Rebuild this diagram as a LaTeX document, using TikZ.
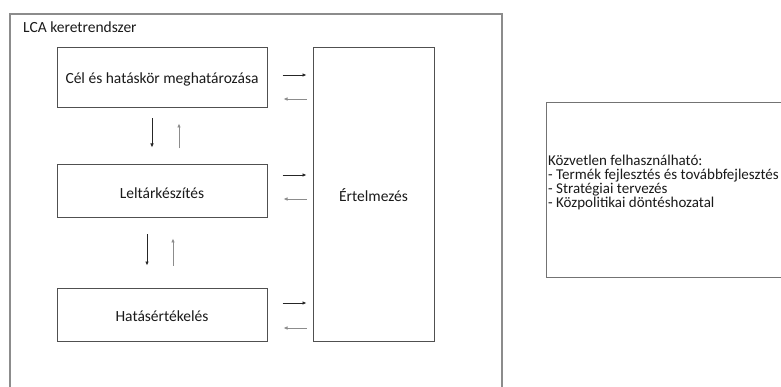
\documentclass[tikz,border=0pt]{standalone}
\usepackage{fontspec}
\setmainfont{Carlito}
\usetikzlibrary{arrows.meta}
\definecolor{framegray}{HTML}{8C8C8C}
\definecolor{boxgray}{HTML}{505050}
\definecolor{txt}{HTML}{1A1A1A}
\tikzset{
  x=1pt, y=-1pt,
  box/.style={draw=boxgray, line width=1pt, fill=white, inner sep=0pt},
  lbl/.style={text=txt, font=\fontsize{15.5}{17}\selectfont, inner sep=0pt},
  darr/.style={draw=black!85, line width=0.75pt, -{Latex[length=4pt,width=3.5pt]}},
  larr/.style={draw=black!45, line width=0.75pt, -{Latex[length=4pt,width=3.5pt]}},
}
\begin{document}
\begin{tikzpicture}
\useasboundingbox (0,0) rectangle (781,387);
\clip (0,0) rectangle (781,387);
% outer frame (open at bottom, beyond picture)
\draw[framegray, line width=1.3pt] (10,395) -- (10,14) -- (502,14) -- (502,395);
\node[lbl, anchor=west] (title) at (23,27) {LCA keretrendszer};
% inner boxes
\node[box, minimum width=210pt, minimum height=60pt] (cel) at (162,78) {};
\node[lbl] (celt) at (162,79) {Cél és hatáskör meghatározása};
\node[box, minimum width=210pt, minimum height=53pt] (lelt) at (162,191.5) {};
\node[lbl] (leltt) at (162,193) {Leltárkészítés};
\node[box, minimum width=210pt, minimum height=53pt] (hat) at (162,314.5) {};
\node[lbl] (hatt) at (162,316) {Hatásértékelés};
\node[box, minimum width=121pt, minimum height=293pt] (ert) at (373.5,194.5) {};
\node[lbl] (ertt) at (373.5,195) {Értelmezés};
% horizontal arrows
\draw[darr, shorten <=15pt, shorten >=6pt] ([yshift=3pt]cel.east) -- ([yshift=3pt]cel.east -| ert.west);
\draw[larr, shorten <=6pt, shorten >=16pt] ([yshift=-21pt]cel.east -| ert.west) -- ([yshift=-21pt]cel.east);
\draw[darr, shorten <=15pt, shorten >=6pt] ([yshift=16.5pt]lelt.east) -- ([yshift=16.5pt]lelt.east -| ert.west);
\draw[larr, shorten <=6pt, shorten >=16pt] ([yshift=-7.5pt]lelt.east -| ert.west) -- ([yshift=-7.5pt]lelt.east);
\draw[darr, shorten <=15pt, shorten >=6pt] ([yshift=11.5pt]hat.east) -- ([yshift=11.5pt]hat.east -| ert.west);
\draw[larr, shorten <=6pt, shorten >=16pt] ([yshift=-13.5pt]hat.east -| ert.west) -- ([yshift=-13.5pt]hat.east);
% vertical arrows
\draw[darr, shorten <=10pt, shorten >=17pt] ([xshift=-10pt]cel.south) -- ([xshift=-10pt]lelt.north);
\draw[larr, shorten <=16pt, shorten >=15pt] ([xshift=17pt]lelt.north) -- ([xshift=17pt]cel.south);
\draw[darr, shorten <=16pt, shorten >=22pt] ([xshift=-15pt]lelt.south) -- ([xshift=-15pt]hat.north);
\draw[larr, shorten <=22pt, shorten >=20pt] ([xshift=11pt]hat.north) -- ([xshift=11pt]lelt.south);
% right box
\node[box, draw=boxgray!80, minimum width=250pt, minimum height=174pt] (use) at (671,190) {};
\node[lbl, anchor=north west, align=left, font=\fontsize{15}{14}\selectfont] (uset) at (548,155) {Közvetlen felhasználható:\\- Termék fejlesztés és továbbfejlesztés\\- Stratégiai tervezés\\- Közpolitikai döntéshozatal};
\end{tikzpicture}
\end{document}
